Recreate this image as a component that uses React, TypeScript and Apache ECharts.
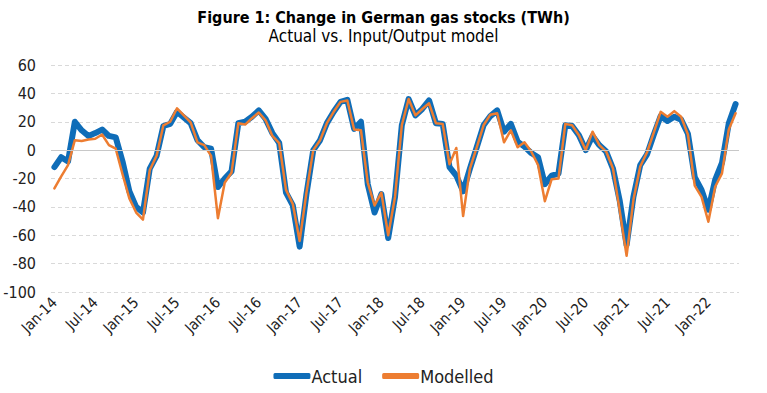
import React, { useEffect, useRef } from "react";
import * as echarts from "echarts";

const startYear = 2014;
const monthNames = ["Jan", "Feb", "Mar", "Apr", "May", "Jun", "Jul", "Aug", "Sep", "Oct", "Nov", "Dec"];
const pointCount = 101;
const categories: string[] = Array.from({ length: pointCount }, (_, i) => {
  const y = startYear + Math.floor(i / 12);
  return `${monthNames[i % 12]}-${String(y).slice(2)}`;
});

const actual = [
  -12, -5, -8, 20, 14, 10, 12, 14.5, 10, 9, -8, -29,
  -40, -44, -13, -4, 17, 18.5, 27, 23, 19, 7, 2, 1,
  -26, -20, -15, 19, 20, 23.5, 28, 22, 12, 5, -30, -39,
  -68, -31, 0, 7, 19, 27, 34, 35.5, 15, 20, -24, -44,
  -31, -62, -33, 17.5, 36, 24.5, 29, 35, 19, 18.5, -12, -18,
  -29, -13, 2, 17.5, 24, 28, 13, 18.5, 6, 2.5, -2, -5,
  -24, -18, -16.5, 17.5, 17, 10.5, 0, 10, 3.5, -1, -13, -36,
  -67, -33, -10.5, -3, 11, 24, 20.5, 23.5, 21.5, 11.5, -19, -28,
  -42, -21, -9, 19, 32.5,
];

const modelled = [
  -27, -18.5, -10.5, 7, 6.5, 7.5, 8, 11, 3.5, 1, -17, -34,
  -44, -49, -14, -4, 17.5, 20, 29.5, 24.5, 19.5, 5.5, 3.5, -4,
  -48, -23, -16, 19, 18, 22.5, 26.5, 21, 10, 5, -28, -38,
  -64, -30, 0, 7, 19, 27, 34, 35, 14.5, 14, -23, -39,
  -30, -60, -33, 17.5, 36, 24.5, 29, 33, 19, 18.5, -10, 1.5,
  -46.5, -13, 2, 17.5, 25, 26, 5.5, 14, 2, 5.5, -1, -10.5,
  -36, -20.5, -20, 18.5, 17.5, 10.5, 0, 13, 3.5, -1, -13, -43,
  -74.5, -35, -11.5, -1.5, 12.5, 27, 23.5, 27.5, 23.5, 11, -25, -33,
  -50.5, -25.8, -16.4, 14.5, 26,
];

const titleText = "Figure 1: Change in German gas stocks (TWh)";
const subtitleText = "Actual vs. Input/Output model";
const FONT = "'Liberation Sans Narrow', 'DejaVu Sans Condensed', 'Noto Sans', sans-serif";

export default function App() {
  const ref = useRef<HTMLDivElement>(null);
  useEffect(() => {
    document.body.style.margin = "0";
    const chart = echarts.init(ref.current!, undefined, { renderer: "svg" });
    chart.setOption({
      animation: false,
      backgroundColor: "#ffffff",
      textStyle: { fontFamily: FONT },
      title: {
        text: titleText,
        subtext: subtitleText,
        left: "center",
        top: 4,
        itemGap: 2,
        textStyle: { fontFamily: FONT, fontSize: 16, fontWeight: "bold", color: "#000" },
        subtextStyle: { fontFamily: FONT, fontSize: 17, color: "#000" },
      },
      legend: {
        bottom: 3,
        left: "center",
        itemWidth: 37,
        itemHeight: 6,
        itemGap: 20,
        icon: "roundRect",
        textStyle: { fontFamily: FONT, fontSize: 18, color: "#222", padding: [0, 0, 0, -4] },
        data: ["Actual", "Modelled"],
      },
      grid: { left: 51, right: 28, top: 65, bottom: 101 },
      xAxis: {
        type: "category",
        data: categories,
        boundaryGap: true,
        axisLine: { show: false },
        axisTick: { show: false },
        axisLabel: {
          interval: 5,
          rotate: 45,
          margin: 8,
          fontFamily: FONT,
          fontSize: 15,
          color: "#222",
        },
        splitLine: { show: false },
      },
      yAxis: {
        type: "value",
        min: -100,
        max: 60,
        interval: 20,
        axisLine: { show: false },
        axisTick: { show: false },
        axisLabel: { fontFamily: FONT, fontSize: 16, color: "#222", margin: 15 },
        splitLine: { lineStyle: { color: "#d9d9d9", type: [4, 3], width: 1 } },
      },
      series: [
        {
          name: "zero",
          type: "line",
          data: [],
          z: 1,
          silent: true,
          markLine: {
            silent: true,
            symbol: ["none", "none"],
            label: { show: false },
            lineStyle: { color: "#c8c8c8", type: "solid", width: 1 },
            data: [{ yAxis: 0 }],
          },
        },
        {
          name: "Actual",
          type: "line",
          data: actual,
          z: 2,
          showSymbol: false,
          symbol: "none",
          color: "#0F6DB8",
          lineStyle: { color: "#0F6DB8", width: 6, join: "round", cap: "round" },
        },
        {
          name: "Modelled",
          type: "line",
          data: modelled,
          z: 3,
          showSymbol: false,
          symbol: "none",
          color: "#ED7D31",
          lineStyle: { color: "#ED7D31", width: 2.5, join: "round", cap: "round" },
        },
      ],
    });
    return () => chart.dispose();
  }, []);
  return <div ref={ref} style={{ width: 767, height: 393 }} />;
}
